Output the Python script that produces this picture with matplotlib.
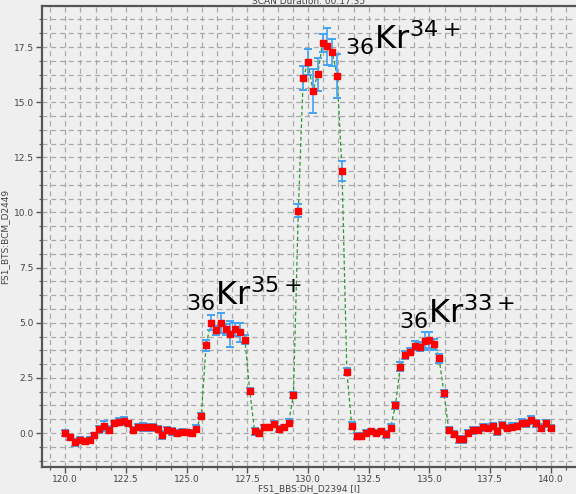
import numpy as np
import matplotlib
matplotlib.use("Agg")
import matplotlib.pyplot as plt
from matplotlib.ticker import MultipleLocator, AutoMinorLocator

# scan settings (FS1_BBS:DH_D2394)
scan_start = 120.0
scan_step = 0.2
n_points = 101

# FS1_BTS:BCM_D2449 readings
bcm = [0.00, -0.20, -0.42, -0.32, -0.38, -0.32, -0.10, 0.17, 0.32, 0.15,
       0.44, 0.51, 0.54, 0.44, 0.15, 0.27, 0.26, 0.26, 0.26, 0.20,
       -0.09, 0.14, 0.08, 0.00, 0.06, 0.03, 0.00, 0.20, 0.79, 3.97,
       5.00, 4.65, 5.00, 4.71, 4.49, 4.71, 4.56, 4.23, 1.90, 0.08,
       0.00, 0.26, 0.26, 0.41, 0.18, 0.26, 0.47, 1.72, 10.08, 16.09,
       16.83, 15.50, 16.27, 17.69, 17.53, 17.26, 16.20, 11.89, 2.78, 0.34,
       -0.14, -0.14, 0.01, 0.08, 0.01, 0.08, -0.06, 0.24, 1.25, 3.00,
       3.54, 3.69, 3.96, 3.91, 4.18, 4.22, 4.02, 3.39, 1.80, 0.14,
       -0.05, -0.29, -0.29, 0.01, 0.12, 0.14, 0.26, 0.24, 0.32, 0.08,
       0.36, 0.24, 0.29, 0.32, 0.47, 0.44, 0.59, 0.44, 0.24, 0.44,
       0.24]
bcm_err = [0.12, 0.12, 0.15, 0.12, 0.12, 0.12, 0.12, 0.15, 0.22, 0.15,
           0.12, 0.15, 0.18, 0.12, 0.12, 0.15, 0.18, 0.15, 0.15, 0.12,
           0.20, 0.12, 0.15, 0.15, 0.12, 0.12, 0.12, 0.15, 0.12, 0.27,
           0.35, 0.20, 0.45, 0.25, 0.60, 0.30, 0.45, 0.20, 0.15, 0.15,
           0.12, 0.12, 0.12, 0.15, 0.12, 0.12, 0.15, 0.12, 0.30, 0.55,
           0.60, 1.00, 0.75, 0.40, 0.85, 0.60, 1.00, 0.45, 0.15, 0.15,
           0.15, 0.12, 0.12, 0.12, 0.12, 0.12, 0.15, 0.15, 0.15, 0.20,
           0.20, 0.15, 0.20, 0.20, 0.40, 0.35, 0.25, 0.20, 0.15, 0.15,
           0.15, 0.15, 0.15, 0.15, 0.15, 0.15, 0.15, 0.15, 0.15, 0.15,
           0.12, 0.12, 0.15, 0.15, 0.15, 0.15, 0.18, 0.15, 0.15, 0.15,
           0.12]

# peak labels: (text, x, y)
peaks = [(r'$_{36}\mathrm{Kr}^{35+}$', 124.98, 5.76),
         (r'$_{36}\mathrm{Kr}^{34+}$', 131.52, 17.40),
         (r'$_{36}\mathrm{Kr}^{33+}$', 133.74, 4.97)]

x = scan_start + scan_step * np.arange(n_points)

bg = '#efefef'
plt.rcParams['mathtext.fontset'] = 'dejavusans'
fig = plt.figure(figsize=(5.76, 4.94), dpi=100, facecolor=bg)
ax = fig.add_axes([42/576, 1 - 467/494, 1 - 42/576, (467 - 6)/494])
ax.set_facecolor(bg)

ax.plot(x, bcm, ls=(0, (3, 2)), color='#2a9a2a', lw=0.9, zorder=3)
ax.errorbar(x, bcm, yerr=bcm_err, fmt='none', ecolor='#45a3f3',
            elinewidth=1.2, capsize=2.8, capthick=1.4, zorder=4)
ax.plot(x, bcm, 's', color='red', ms=4.4, mec='red', zorder=5)

for txt, px, py in peaks:
    ax.text(px, py, txt, fontsize=23, ha='left', va='baseline', zorder=6)

ax.set_xlim(119.04, 141.04)
ax.set_ylim(-1.54, 19.36)
ax.xaxis.set_major_locator(MultipleLocator(2.5))
ax.yaxis.set_major_locator(MultipleLocator(2.5))
ax.xaxis.set_minor_locator(AutoMinorLocator(4))
ax.yaxis.set_minor_locator(AutoMinorLocator(4))
ax.grid(which='both', ls=(0, (4, 3)), color='#a8a8a8', lw=0.9, zorder=0)
ax.set_axisbelow(True)

for s in ['left', 'bottom', 'top']:
    ax.spines[s].set_color('#555555')
    ax.spines[s].set_linewidth(1.6)
ax.spines['right'].set_visible(False)
ax.tick_params(which='major', length=4, width=1, color='#555555',
               labelsize=6.5, labelcolor='#444444', pad=2)
ax.tick_params(which='minor', length=2.5, width=0.8, color='#555555')

ax.set_xlabel('FS1_BBS:DH_D2394 [I]', fontsize=6.5, color='#444444', labelpad=0)
ax.set_ylabel('FS1_BTS:BCM_D2449', fontsize=6.5, color='#444444', labelpad=3)
ax.set_title('SCAN Duration: 00:17:35', fontsize=6.5, color='#444444', pad=0)

fig.savefig('out.png', dpi=100, facecolor=bg)
